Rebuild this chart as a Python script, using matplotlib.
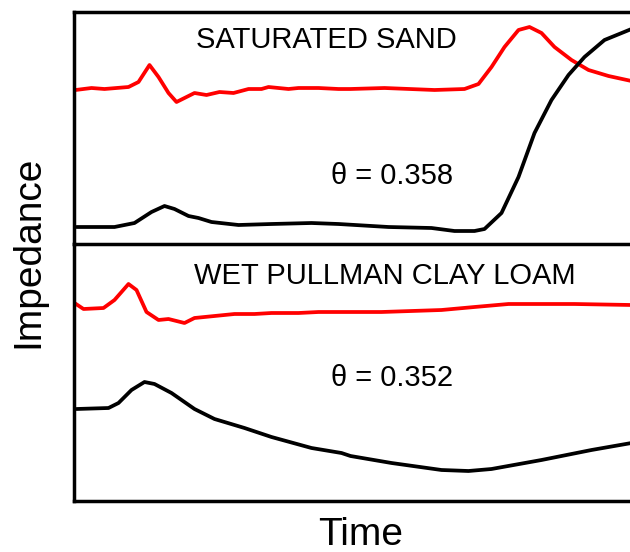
import matplotlib
matplotlib.use("Agg")
import matplotlib.pyplot as plt

plt.rcParams["font.family"] = ["Liberation Sans", "DejaVu Sans"]

# time axis in arbitrary units, impedance in arbitrary units
sand_red_t = [2, 18, 31, 55, 65, 76, 85, 95, 103, 111, 121, 133, 146, 160, 175, 188, 195, 215, 225,
              245, 265, 277, 311, 361, 391, 405, 418, 431, 445, 456, 468, 481, 498, 515, 535, 558]
sand_red_z = [153, 155, 154, 156, 161, 178, 166, 150, 141, 145, 150, 148, 151, 150, 154, 154, 156, 154, 155,
              155, 154, 154, 155, 153, 154, 159, 176, 196, 213, 216, 210, 196, 183, 173, 167, 162]

sand_blk_t = [3, 41, 61, 78, 91, 101, 115, 125, 138, 165, 198, 238, 265, 315, 358, 381, 401, 411,
              428, 445, 461, 478, 495, 511, 531, 558]
sand_blk_z = [16, 16, 20, 31, 37, 34, 27, 25, 21, 18, 19, 20, 19, 16, 15, 12, 12, 14,
              30, 66, 110, 143, 168, 186, 203, 214]

clay_red_t = [1, 10, 30, 41, 55, 63, 73, 85, 95, 111, 121, 141, 161, 181, 198, 225, 245, 277,
              308, 368, 401, 435, 468, 501, 558]
clay_red_z = [198, 192, 193, 201, 217, 211, 189, 181, 182, 178, 183, 185, 187, 187, 188, 188, 189, 189,
              189, 191, 194, 197, 197, 197, 196]

clay_blk_t = [3, 35, 45, 58, 71, 81, 98, 121, 141, 171, 198, 238, 268, 277, 318, 368, 395, 418,
              468, 518, 558]
clay_blk_z = [92, 93, 98, 111, 119, 117, 108, 92, 82, 73, 64, 53, 48, 45, 38, 31, 30, 32,
              41, 51, 58]

W, H = 630, 552
fig = plt.figure(figsize=(W / 100, H / 100), dpi=100)
L = 73.5 / W
top_ax = fig.add_axes([L, 1 - 244 / H, 1 - L, (244 - 11.5) / H])
bot_ax = fig.add_axes([L, 1 - 501 / H, 1 - L, (501 - 244) / H])

lw = 2.7
for ax, t, z, c in [(top_ax, sand_red_t, sand_red_z, "#ff0000"),
                    (top_ax, sand_blk_t, sand_blk_z, "black"),
                    (bot_ax, clay_red_t, clay_red_z, "#ff0000"),
                    (bot_ax, clay_blk_t, clay_blk_z, "black")]:
    ax.plot(t, z, color=c, lw=lw, solid_joinstyle="round", solid_capstyle="round")

top_ax.set_xlim(0, 556.5); top_ax.set_ylim(-1, 231.5)
bot_ax.set_xlim(0, 556.5); bot_ax.set_ylim(0, 257)

for ax in (top_ax, bot_ax):
    ax.set_xticks([]); ax.set_yticks([])
    ax.patch.set_alpha(0)
    ax.spines["right"].set_visible(False)
    for s in ax.spines.values():
        s.set_linewidth(2.5)
bot_ax.spines["top"].set_visible(False)
top_ax.set_zorder(2)

fs = 21
top_ax.text(253, 243 - 48, "SATURATED SAND", ha="center", va="baseline", fontsize=fs)
top_ax.text(319, 243 - 184, "θ = 0.358", ha="center", va="baseline", fontsize=fs)
bot_ax.text(311, 501 - 284, "WET PULLMAN CLAY LOAM", ha="center", va="baseline", fontsize=fs)
bot_ax.text(319, 501 - 386, "θ = 0.352", ha="center", va="baseline", fontsize=fs)

fig.text(28 / W, 1 - 252 / H, "Impedance", rotation=90, ha="center", va="center", fontsize=28)
fig.text(361 / W, 1 - 545 / H, "Time", ha="center", va="baseline", fontsize=28)

fig.savefig("out.png", dpi=100)
